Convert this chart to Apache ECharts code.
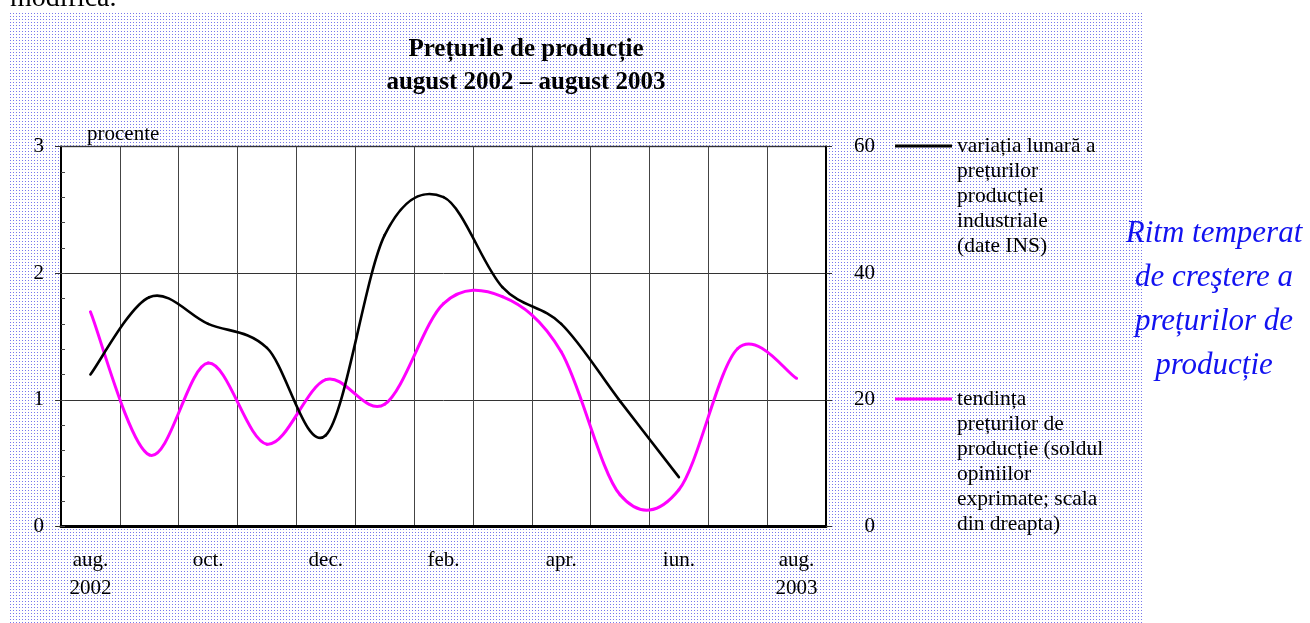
<!DOCTYPE html>
<html>
<head>
<meta charset="utf-8">
<title>Prețurile de producție</title>
<script src="https://cdn.jsdelivr.net/npm/echarts@6/dist/echarts.min.js"></script>
<style>
  html, body { margin: 0; padding: 0; background: #fff; }
  #chart { width: 1310px; height: 623px; }
</style>
</head>
<body>
<div id="chart"></div>
<script>
// luni: august 2002 - august 2003
var months = ["aug.\n2002", "sep.", "oct.", "nov.", "dec.", "ian.", "feb.", "mar.", "apr.", "mai", "iun.", "iul.", "aug.\n2003"];
// variatia lunara a preturilor productiei industriale (%, scala stanga)
var monthlyChange = [1.2, 1.81, 1.6, 1.41, 0.72, 2.3, 2.6, 1.89, 1.6, 0.99, 0.39, null, null];
// tendinta preturilor de productie (sold, scala dreapta)
var priceTrend = [33.9, 11.3, 25.8, 13.0, 23.2, 19.3, 35.2, 36.3, 27.6, 5.0, 5.8, 28.1, 23.4];
var leftTicks = [0, 3, 1];   // min, max, interval
var leftMinor = 0.2;
var rightTicks = [0, 60, 20];

var nameBlack = "variația lunară a prețurilor producției industriale (date INS)";
var nameMagenta = "tendința prețurilor de producție (soldul opiniilor exprimate; scala din dreapta)";
var legendLines = {};
legendLines[nameBlack] = ["variația lunară a", "prețurilor", "producției", "industriale", "(date INS)"];
legendLines[nameMagenta] = ["tendința", "prețurilor de", "producție (soldul", "opiniilor", "exprimate; scala", "din dreapta)"];

var serif = "'Liberation Serif', 'Times New Roman', serif";

// dotted page background
var tile = document.createElement("canvas");
tile.width = 3;
tile.height = 3;
var tctx = tile.getContext("2d");
tctx.fillStyle = "#7878ec";
tctx.fillRect(1, 1, 1, 1);

// smoothed line like the spreadsheet one (cardinal spline through the points),
// one bezier piece per month, positioned with api.coord
function smoothLine(values, color, width) {
  return function (params, api) {
    var i = params.dataIndex;
    var n = values.length;
    if (i >= n - 1 || values[i] == null || values[i + 1] == null) return;
    var pt = function (k) { return api.coord([k, values[k]]); };
    var a = pt(i), b = pt(i + 1);
    var prev = (i > 0 && values[i - 1] != null) ? pt(i - 1) : a;
    var next = (i + 2 < n && values[i + 2] != null) ? pt(i + 2) : b;
    return {
      type: "bezierCurve",
      shape: {
        x1: a[0], y1: a[1],
        x2: b[0], y2: b[1],
        cpx1: a[0] + (b[0] - prev[0]) / 6,
        cpy1: a[1] + (b[1] - prev[1]) / 6,
        cpx2: b[0] - (next[0] - a[0]) / 6,
        cpy2: b[1] - (next[1] - a[1]) / 6
      },
      style: { stroke: color, lineWidth: width, fill: "none", lineCap: "round" }
    };
  };
}

function toPairs(values) {
  return values.map(function (v, i) { return [i, v]; });
}

var chart = echarts.init(document.getElementById("chart"), null, { renderer: "canvas" });

chart.setOption({
  backgroundColor: "#fff",
  animation: false,
  textStyle: { fontFamily: serif, color: "#000" },
  graphic: [
    {
      type: "rect",
      z: -10,
      shape: { x: 10, y: 12, width: 1132, height: 611 },
      style: { fill: { image: tile, repeat: "repeat" } },
      silent: true
    },
    {
      type: "text",
      x: 10,
      y: -1.5,
      style: { text: "modifică.", fontFamily: serif, fontSize: 28, fill: "#000", verticalAlign: "middle" }
    }
  ],
  title: [
    {
      text: "Prețurile de producție\naugust 2002 – august 2003",
      left: 526,
      top: 33,
      padding: 0,
      textAlign: "center",
      textStyle: { fontFamily: serif, fontSize: 25, fontWeight: "bold", lineHeight: 33, color: "#000" }
    },
    {
      text: "Ritm temperat\nde creştere a\nprețurilor de\nproducție",
      left: 1214,
      top: 212,
      padding: 0,
      textAlign: "center",
      textStyle: { fontFamily: serif, fontSize: 31, fontStyle: "italic", fontWeight: "normal", lineHeight: 44, color: "#1212f0" }
    }
  ],
  legend: {
    orient: "vertical",
    left: 895,
    top: 33.5,
    padding: 0,
    itemGap: 3,
    itemWidth: 57,
    itemHeight: 3,
    icon: "rect",
    selectedMode: false,
    data: [nameBlack, nameMagenta],
    textStyle: { fontFamily: serif, fontSize: 21.5, lineHeight: 25, color: "#000" },
    formatter: function (name) {
      var lines = legendLines[name];
      var pad = "";
      for (var i = 1; i < lines.length; i++) pad += "\n";
      return pad + lines.join("\n");
    }
  },
  grid: {
    left: 61,
    right: 484,
    top: 146.5,
    bottom: 96.5,
    show: true,
    backgroundColor: "#fff",
    borderColor: "#666",
    borderWidth: 1.5
  },
  xAxis: {
    type: "category",
    data: months,
    boundaryGap: true,
    axisLine: { lineStyle: { color: "#000", width: 3 } },
    axisTick: { show: false },
    axisLabel: {
      interval: 1,
      margin: 19.5,
      fontFamily: serif,
      fontSize: 21,
      lineHeight: 28,
      color: "#000"
    },
    splitLine: { show: true, interval: 0, lineStyle: { color: "#444", width: 1 } }
  },
  yAxis: [
    {
      type: "value",
      position: "left",
      min: leftTicks[0],
      max: leftTicks[1],
      interval: leftTicks[2],
      name: "procente",
      nameLocation: "end",
      nameGap: 2,
      nameTextStyle: { fontFamily: serif, fontSize: 21, color: "#000", align: "left", padding: [0, 0, 0, 26] },
      axisLine: { show: true, lineStyle: { color: "#000", width: 2 } },
      axisTick: { show: true, length: 6, lineStyle: { color: "#333" } },
      axisLabel: { margin: 17, fontFamily: serif, fontSize: 21, color: "#000" },
      splitLine: { show: true, lineStyle: { color: "#333", width: 1 } }
    },
    {
      type: "value",
      position: "right",
      min: rightTicks[0],
      max: rightTicks[1],
      interval: rightTicks[2],
      axisLine: { show: true, lineStyle: { color: "#000", width: 2 } },
      axisTick: { show: true, length: 6, lineStyle: { color: "#333" } },
      axisLabel: { align: "right", margin: 49, fontFamily: serif, fontSize: 21, color: "#000" },
      splitLine: { show: false }
    },
    {
      // small inner ticks on the left scale
      type: "value",
      position: "left",
      min: leftTicks[0],
      max: leftTicks[1],
      interval: leftMinor,
      axisLine: { show: false },
      axisTick: { show: true, inside: true, length: 4, lineStyle: { color: "#444" } },
      axisLabel: { show: false },
      splitLine: { show: false }
    }
  ],
  series: [
    {
      name: nameBlack,
      type: "custom",
      yAxisIndex: 0,
      data: toPairs(monthlyChange),
      encode: { x: 0, y: 1 },
      renderItem: smoothLine(monthlyChange, "#000", 2.6),
      itemStyle: { color: "#000" },
      z: 3
    },
    {
      name: nameMagenta,
      type: "custom",
      yAxisIndex: 1,
      data: toPairs(priceTrend),
      encode: { x: 0, y: 1 },
      renderItem: smoothLine(priceTrend, "#ff00ff", 3),
      itemStyle: { color: "#ff00ff" },
      z: 2
    }
  ]
});
</script>
</body>
</html>
